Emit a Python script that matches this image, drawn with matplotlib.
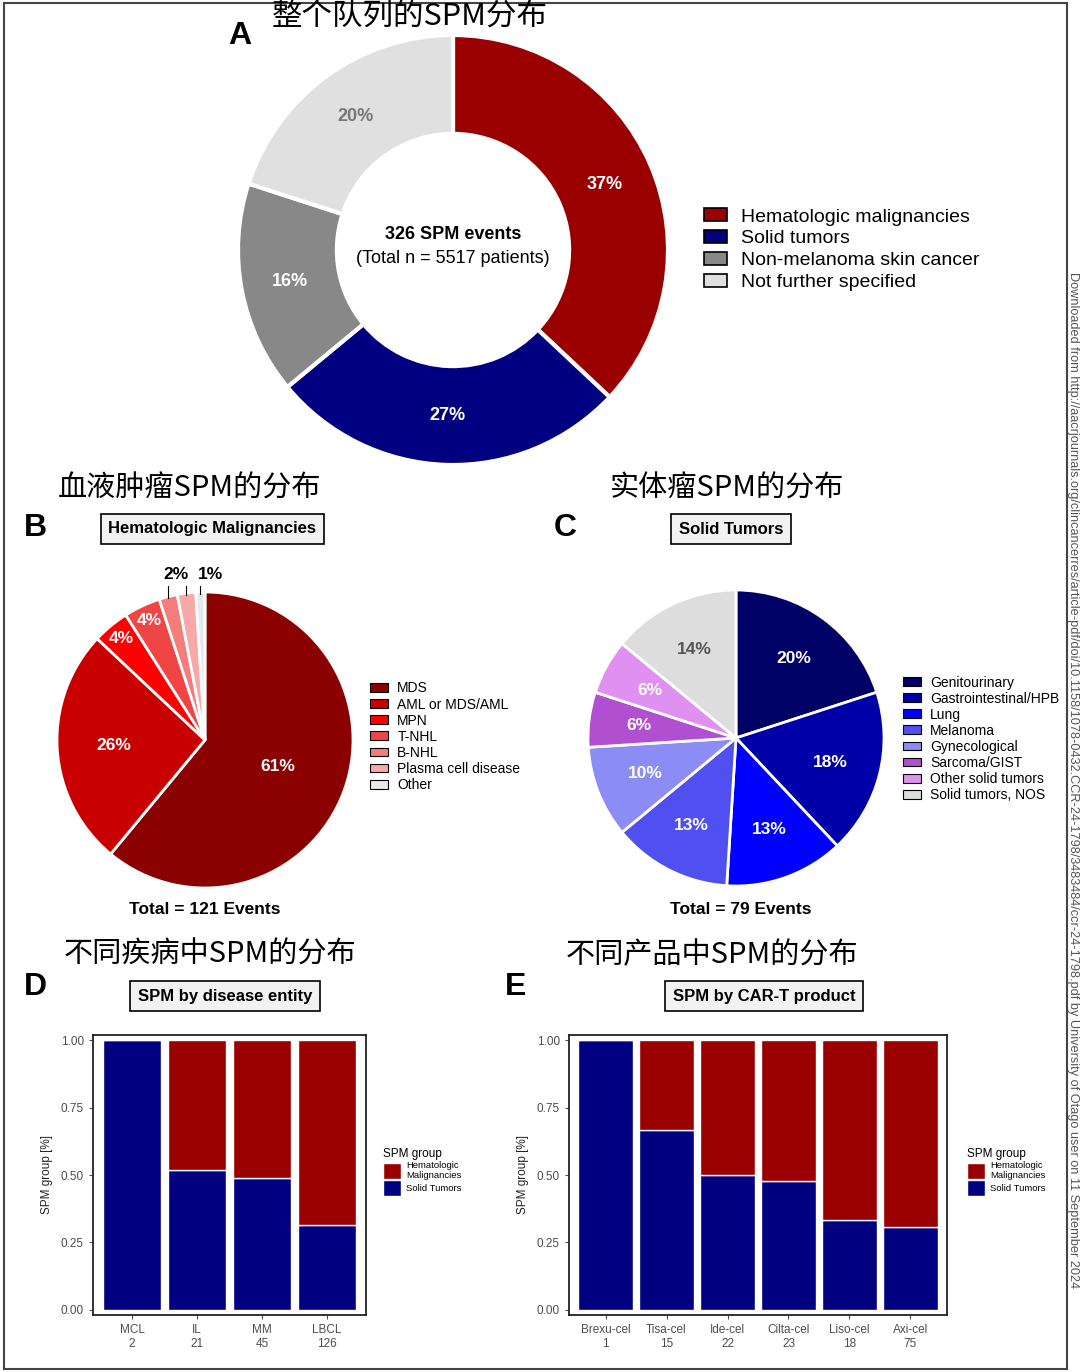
import numpy as np
import matplotlib.pyplot as plt
from matplotlib.patches import Patch, Rectangle

W, H = 1080, 1372

# ---- data ----
overall_labels = ["Hematologic malignancies", "Solid tumors",
                  "Non-melanoma skin cancer", "Not further specified"]
overall_pct = [37, 27, 16, 20]
overall_colors = ["#9a0000", "#000080", "#888888", "#e0e0e0"]

heme_labels = ["MDS", "AML or MDS/AML", "MPN", "T-NHL", "B-NHL",
               "Plasma cell disease", "Other"]
heme_pct = [61, 26, 4, 4, 2, 2, 1]
heme_colors = ["#8b0000", "#c80000", "#ff0000", "#f04545", "#f47c7c",
               "#f8a8a8", "#e8e8e8"]

solid_labels = ["Genitourinary", "Gastrointestinal/HPB", "Lung", "Melanoma",
                "Gynecological", "Sarcoma/GIST", "Other solid tumors",
                "Solid tumors, NOS"]
solid_pct = [20, 18, 13, 13, 10, 6, 6, 14]
solid_colors = ["#000066", "#0000a8", "#0000ff", "#5050f0", "#8c8cf5",
                "#b050d0", "#e090f0", "#dddddd"]

disease = ["MCL", "IL", "MM", "LBCL"]
disease_n = [2, 21, 45, 126]
disease_solid = [1.0, 0.52, 0.49, 0.315]

product = ["Brexu-cel", "Tisa-cel", "Ide-cel", "Cilta-cel", "Liso-cel", "Axi-cel"]
product_n = [1, 15, 22, 23, 18, 75]
product_solid = [1.0, 0.667, 0.50, 0.478, 0.333, 0.307]

RED = "#9a0000"
NAVY = "#000080"

plt.rcParams["font.family"] = ["Liberation Sans", "DejaVu Sans"]
CJK = ["Noto Sans CJK SC", "DejaVu Sans"]


def fx(x):
    return x / W


def fy(y):
    return 1 - y / H


def box_axes(fig, left, top, right, bottom):
    return fig.add_axes([fx(left), fy(bottom), (right - left) / W, (bottom - top) / H])


def pie_axes(fig, cx, cy, r, pad=1.04):
    return box_axes(fig, cx - r * pad, cy - r * pad, cx + r * pad, cy + r * pad)


def fix_pie_limits(ax, pad=1.04):
    ax.set_xlim(-pad, pad)
    ax.set_ylim(-pad, pad)
    ax.axis("off")


def label_angles(pct):
    cum = np.cumsum([0] + list(pct))
    mids = (cum[:-1] + cum[1:]) / 2 / 100.0
    return np.deg2rad(90 - mids * 360)


fig = plt.figure(figsize=(W / 100, H / 100), dpi=100)

# outer frame
fig.add_artist(Rectangle((fx(4), fy(1369)), (1067 - 4) / W, (1369 - 3) / H,
                         transform=fig.transFigure, fill=False,
                         edgecolor="#444444", linewidth=1.5))

# ---- A: donut ----
axA = pie_axes(fig, 453, 250, 215)
axA.pie(overall_pct, colors=overall_colors, startangle=90, counterclock=False,
        radius=1, wedgeprops=dict(width=0.46, edgecolor="white", linewidth=3))
fix_pie_limits(axA)
angA = label_angles(overall_pct)
a_txt_colors = ["white", "white", "white", "#777777"]
for a, p, c in zip(angA, overall_pct, a_txt_colors):
    axA.text(0.77 * np.cos(a), 0.77 * np.sin(a), f"{p}%", ha="center", va="center",
             color=c, fontsize=13, fontweight="bold")
axA.text(0, 0.07, "326 SPM events", ha="center", va="center",
         fontsize=13, fontweight="bold")
axA.text(0, -0.04, "(Total n = 5517 patients)", ha="center", va="center", fontsize=13)

fig.legend(handles=[Patch(facecolor=c, edgecolor="black", linewidth=1.2) for c in overall_colors],
           labels=overall_labels, loc="upper left", bbox_to_anchor=(fx(686), fy(191)),
           frameon=False, fontsize=14, handlelength=1.2, handleheight=0.6,
           labelspacing=0.25, handletextpad=0.75)

fig.text(fx(410), fy(16), "整个队列的SPM分布", family=CJK, fontsize=22,
         ha="center", va="center")
fig.text(fx(240), fy(36), "A", fontsize=23, fontweight="bold", ha="center", va="center")

# ---- B: hematologic pie ----
axB = pie_axes(fig, 205, 740, 148)
axB.pie(heme_pct, colors=heme_colors, startangle=90, counterclock=False,
        radius=1, wedgeprops=dict(edgecolor="white", linewidth=2))
fix_pie_limits(axB)
angB = label_angles(heme_pct)
b_rad = [0.52, 0.62, 0.89, 0.89]
for a, p, rr in zip(angB[:4], heme_pct[:4], b_rad):
    axB.text(rr * np.cos(a), rr * np.sin(a), f"{p}%", ha="center", va="center",
             color="white", fontsize=12.5, fontweight="bold")
for a in angB[4:]:
    axB.plot([1.0 * np.cos(a), 1.0 * np.cos(a)], [0.99 * np.sin(a), 1.04],
             color="black", linewidth=0.8, clip_on=False)
axB.text(1.0 * np.cos(angB[4]) + 0.05, 1.12, f"{heme_pct[4]}%", ha="center", va="center",
         fontsize=12.5, fontweight="bold")
axB.text(1.0 * np.cos(angB[6]) + 0.07, 1.12, f"{heme_pct[6]}%", ha="center", va="center",
         fontsize=12.5, fontweight="bold")

fig.legend(handles=[Patch(facecolor=c, edgecolor="black", linewidth=0.8) for c in heme_colors],
           labels=heme_labels, loc="upper left", bbox_to_anchor=(fx(357), fy(669)),
           frameon=False, fontsize=10, handlelength=1.3, handleheight=0.6,
           labelspacing=0.15, handletextpad=0.7)

fig.text(fx(190), fy(489), "血液肿瘤SPM的分布", family=CJK, fontsize=21,
         ha="center", va="center")
fig.text(fx(35), fy(528), "B", fontsize=23, fontweight="bold", ha="center", va="center")
fig.text(fx(212), fy(529), "Hematologic Malignancies", fontsize=12, fontweight="bold",
         ha="center", va="center",
         bbox=dict(boxstyle="square,pad=0.45", fc="#f2f2f2", ec="black", lw=1.2))
fig.text(fx(205), fy(910), "Total = 121 Events", fontsize=12.5, fontweight="bold",
         ha="center", va="center")

# ---- C: solid tumour pie ----
axC = pie_axes(fig, 736, 738, 148)
axC.pie(solid_pct, colors=solid_colors, startangle=90, counterclock=False,
        radius=1, wedgeprops=dict(edgecolor="white", linewidth=2))
fix_pie_limits(axC)
angC = label_angles(solid_pct)
for i, (a, p) in enumerate(zip(angC, solid_pct)):
    c = "#555555" if i == len(solid_pct) - 1 else "white"
    axC.text(0.66 * np.cos(a), 0.66 * np.sin(a), f"{p}%", ha="center", va="center",
             color=c, fontsize=12.5, fontweight="bold")

fig.legend(handles=[Patch(facecolor=c, edgecolor="black", linewidth=0.8) for c in solid_colors],
           labels=solid_labels, loc="upper left", bbox_to_anchor=(fx(890), fy(663)),
           frameon=False, fontsize=10, handlelength=1.3, handleheight=0.6,
           labelspacing=0.15, handletextpad=0.7)

fig.text(fx(727), fy(489), "实体瘤SPM的分布", family=CJK, fontsize=21,
         ha="center", va="center")
fig.text(fx(565), fy(528), "C", fontsize=23, fontweight="bold", ha="center", va="center")
fig.text(fx(731), fy(529), "Solid Tumors", fontsize=12, fontweight="bold",
         ha="center", va="center",
         bbox=dict(boxstyle="square,pad=0.45", fc="#f2f2f2", ec="black", lw=1.2))
fig.text(fx(741), fy(910), "Total = 79 Events", fontsize=12.5, fontweight="bold",
         ha="center", va="center")


# ---- D / E: stacked bars ----
def stacked_bars(ax, cats, ns, solid):
    x = np.arange(1, len(cats) + 1)
    solid = np.asarray(solid)
    heme = 1 - solid
    ax.bar(x, solid, width=0.9, color=NAVY, edgecolor="white", linewidth=1)
    ax.bar(x, heme, bottom=solid, width=0.9, color=RED, edgecolor="white", linewidth=1)
    ax.set_xlim(0.4, len(cats) + 0.6)
    ax.set_ylim(-0.02, 1.02)
    ax.set_xticks(x)
    ax.set_xticklabels([f"{c}\n{n}" for c, n in zip(cats, ns)])
    ax.set_yticks([0, 0.25, 0.5, 0.75, 1.0])
    ax.set_yticklabels(["0.00", "0.25", "0.50", "0.75", "1.00"])
    ax.tick_params(colors="#4d4d4d", labelsize=8.5, length=3, width=0.8,
                   labelcolor="#4d4d4d")
    ax.set_ylabel("SPM group [%]", fontsize=8.5, color="#222222", labelpad=6)
    for s in ax.spines.values():
        s.set_linewidth(1.3)
        s.set_color("#222222")
    ax.legend(handles=[Patch(facecolor=RED, edgecolor="white"),
                       Patch(facecolor=NAVY, edgecolor="white")],
              labels=["Hematologic\nMalignancies", "Solid Tumors"],
              title="SPM group", title_fontsize=8.5, fontsize=6.8,
              loc="upper left", bbox_to_anchor=(1.03, 0.625), frameon=False,
              handlelength=1.9, handleheight=2.2, labelspacing=0.0,
              handletextpad=0.6, alignment="left")


axD = box_axes(fig, 93, 1035, 366, 1315)
stacked_bars(axD, disease, disease_n, disease_solid)
axE = box_axes(fig, 569, 1035, 947, 1315)
stacked_bars(axE, product, product_n, product_solid)

fig.text(fx(210), fy(955), "不同疾病中SPM的分布", family=CJK, fontsize=21,
         ha="center", va="center")
fig.text(fx(712), fy(955), "不同产品中SPM的分布", family=CJK, fontsize=21,
         ha="center", va="center")
fig.text(fx(35), fy(987), "D", fontsize=23, fontweight="bold", ha="center", va="center")
fig.text(fx(516), fy(987), "E", fontsize=23, fontweight="bold", ha="center", va="center")
fig.text(fx(225), fy(996), "SPM by disease entity", fontsize=12, fontweight="bold",
         ha="center", va="center",
         bbox=dict(boxstyle="square,pad=0.45", fc="#f2f2f2", ec="black", lw=1.2))
fig.text(fx(764), fy(996), "SPM by CAR-T product", fontsize=12, fontweight="bold",
         ha="center", va="center",
         bbox=dict(boxstyle="square,pad=0.45", fc="#f2f2f2", ec="black", lw=1.2))

# download watermark on the right edge
fig.text(fx(1073), fy(780),
         "Downloaded from http://aacrjournals.org/clincancerres/article-pdf/doi/10.1158/"
         "1078-0432.CCR-24-1798/3483484/ccr-24-1798.pdf by University of Otago user on "
         "11 September 2024",
         rotation=-90, ha="center", va="center", fontsize=9.2, color="#555555")

fig.savefig("out.png", dpi=100)
